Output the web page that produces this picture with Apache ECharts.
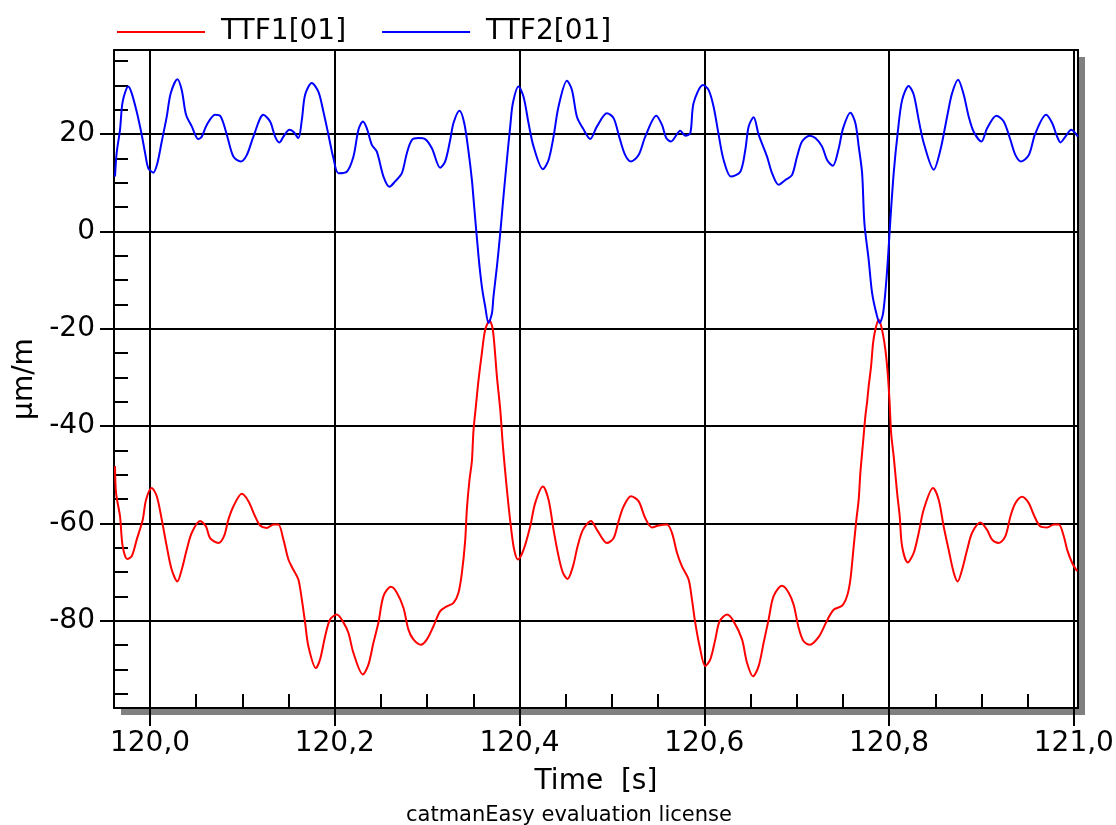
<!DOCTYPE html>
<html>
<head>
<meta charset="utf-8">
<script src="https://cdn.jsdelivr.net/npm/echarts@6/dist/echarts.min.js"></script>
<style>html,body{margin:0;padding:0;background:#fff;}#chart{width:1116px;height:825px;}</style>
</head>
<body>
<div id="chart"></div>
<script>
const seriesNames = ['TTF1[01]', 'TTF2[01]'];
const xMajorTicks = [120.0, 120.2, 120.4, 120.6, 120.8, 121.0];
const xMinorTicks = [120.05, 120.1, 120.15, 120.25, 120.3, 120.35, 120.45, 120.5, 120.55, 120.65, 120.7, 120.75, 120.85, 120.9, 120.95];
const yMajorTicks = [-80, -60, -40, -20, 0, 20];
const yMinorTicks = [-95, -90, -85, -75, -70, -65, -55, -50, -45, -35, -30, -25, -15, -10, -5, 5, 10, 15, 25, 30, 35];

const tTTF1 = [119.9621,119.9632,119.9675,119.9704,119.9754,119.9802,119.9856,119.9921,119.9957,120.0018,
120.0073,120.0127,120.0181,120.0235,120.0296,120.0343,120.0397,120.0452,120.0542,120.0606,
120.0650,120.0740,120.0801,120.0848,120.0902,120.0993,120.1065,120.1137,120.1191,120.1264,
120.1335,120.1389,120.1444,120.1498,120.1552,120.1606,120.1643,120.1679,120.1714,120.1795,
120.1841,120.1895,120.1949,120.2022,120.2093,120.2148,120.2202,120.2304,120.2364,120.2418,
120.2472,120.2527,120.2607,120.2672,120.2743,120.2797,120.2851,120.2932,120.2997,120.3068,
120.3141,120.3213,120.3285,120.3339,120.3376,120.3411,120.3430,120.3458,120.3484,120.3501,
120.3531,120.3556,120.3592,120.3628,120.3675,120.3711,120.3755,120.3791,120.3820,120.3863,
120.3906,120.3942,120.3982,120.4043,120.4115,120.4169,120.4253,120.4314,120.4368,120.4422,
120.4469,120.4519,120.4578,120.4628,120.4686,120.4773,120.4838,120.4946,120.5018,120.5072,
120.5126,120.5206,120.5288,120.5361,120.5433,120.5505,120.5596,120.5650,120.5704,120.5758,
120.5830,120.5866,120.5902,120.5949,120.6010,120.6065,120.6119,120.6165,120.6246,120.6317,
120.6408,120.6462,120.6527,120.6588,120.6642,120.6696,120.6750,120.6841,120.6913,120.6967,
120.7021,120.7075,120.7140,120.7238,120.7329,120.7400,120.7491,120.7545,120.7581,120.7617,
120.7646,120.7671,120.7689,120.7718,120.7743,120.7761,120.7779,120.7805,120.7827,120.7851,
120.7887,120.7924,120.7960,120.7985,120.8006,120.8022,120.8050,120.8087,120.8115,120.8141,
120.8202,120.8267,120.8321,120.8375,120.8476,120.8537,120.8591,120.8645,120.8700,120.8743,
120.8790,120.8845,120.8899,120.8989,120.9061,120.9115,120.9187,120.9259,120.9314,120.9368,
120.9440,120.9512,120.9566,120.9638,120.9711,120.9783,120.9837,120.9891,120.9928,120.9982,
121.0036];
const vTTF1 = [-48.2,-53.7,-58.5,-64.7,-67.3,-66.7,-63.3,-59.2,-55.1,-52.7,
-54.4,-59.2,-64.7,-69.5,-71.9,-69.5,-65.4,-61.9,-59.5,-60.6,
-63,-64,-62.6,-59.2,-56.5,-53.9,-55.4,-58.5,-60.4,-60.9,
-60.2,-60.2,-63.3,-67.4,-69.5,-71.5,-75.6,-80.4,-85.2,-89.7,
-87.9,-83.2,-79.7,-78.7,-80.3,-82.5,-86.6,-91,-89,-84.5,
-80.4,-74.9,-73,-74.2,-77.3,-81.8,-83.8,-84.9,-83.8,-81.1,
-78,-77,-76.3,-74.2,-70.1,-63.6,-57,-51,-47.2,-41,
-35.2,-30.5,-25,-20.2,-18.3,-20.2,-29.8,-36.6,-44.1,-53,
-60.6,-65.4,-67.4,-65.4,-60.6,-55.8,-52.4,-55.1,-61.3,-66.7,
-70.1,-71.4,-68.8,-64.7,-61.3,-59.5,-61.3,-64,-63,-59.5,
-56.5,-54.4,-55.4,-58.9,-60.8,-60.4,-60.2,-61.9,-66,-68.8,
-71.5,-75.6,-80.4,-85.2,-89.3,-87.9,-83.8,-80.1,-78.7,-80.1,
-83.8,-88.6,-91.4,-89.3,-84.5,-79.7,-74.9,-72.8,-74.2,-76.7,
-81.4,-84.2,-84.9,-83.3,-79.9,-77.7,-76.9,-74.9,-71.5,-64.7,
-59.2,-55.1,-49.6,-43.4,-38,-35.2,-31.8,-27.7,-22.9,-20.2,
-18.1,-20.2,-24.3,-29.1,-35.2,-41.4,-46.2,-53.7,-58.5,-64.7,
-68,-66,-61.9,-57.1,-52.7,-55.1,-60.6,-65.4,-70.1,-71.9,
-69.5,-65.4,-61.9,-59.8,-61.3,-63.3,-64,-62.6,-58.5,-55.8,
-54.5,-55.8,-58.2,-60.6,-60.8,-60.2,-60.2,-62.6,-65.4,-68.1,
-69.8];

const tTTF2 = [119.9621,119.9639,119.9675,119.9704,119.9765,119.9802,119.9856,119.9910,119.9946,119.9982,
120.0036,120.0079,120.0127,120.0181,120.0224,120.0296,120.0343,120.0390,120.0452,120.0523,
120.0560,120.0614,120.0704,120.0766,120.0831,120.0902,120.0982,120.1047,120.1119,120.1227,
120.1300,120.1354,120.1400,120.1444,120.1509,120.1552,120.1606,120.1643,120.1679,120.1751,
120.1823,120.1877,120.1931,120.1985,120.2039,120.2130,120.2202,120.2256,120.2304,120.2347,
120.2401,120.2455,120.2527,120.2592,120.2653,120.2726,120.2780,120.2834,120.2906,120.2978,
120.3051,120.3141,120.3195,120.3249,120.3285,120.3350,120.3401,120.3447,120.3484,120.3509,
120.3556,120.3592,120.3628,120.3664,120.3701,120.3718,120.3755,120.3791,120.3826,120.3863,
120.3899,120.3928,120.3989,120.4043,120.4097,120.4151,120.4253,120.4314,120.4368,120.4422,
120.4513,120.4567,120.4621,120.4686,120.4765,120.4838,120.4946,120.5018,120.5083,120.5144,
120.5206,120.5288,120.5361,120.5480,120.5542,120.5588,120.5639,120.5740,120.5794,120.5848,
120.5884,120.5986,120.6046,120.6100,120.6155,120.6209,120.6289,120.6390,120.6444,120.6480,
120.6534,120.6588,120.6679,120.6733,120.6804,120.6877,120.6949,120.7004,120.7058,120.7140,
120.7202,120.7274,120.7329,120.7391,120.7454,120.7502,120.7581,120.7635,120.7671,120.7708,
120.7733,120.7779,120.7816,120.7862,120.7898,120.7935,120.7971,120.7996,120.8014,120.8050,
120.8093,120.8141,120.8212,120.8267,120.8321,120.8375,120.8483,120.8556,120.8628,120.8682,
120.8747,120.8808,120.8862,120.8916,120.9000,120.9061,120.9162,120.9241,120.9314,120.9368,
120.9429,120.9512,120.9584,120.9700,120.9765,120.9819,120.9855,120.9909,120.9971,121.0043];
const vTTF2 = [11.3,16.2,20.9,26.7,29.8,28.4,24.6,19.9,16.2,13,
12.1,14,18.5,23.6,28.4,31.3,29.1,24,21.6,19,
19.5,21.9,24,23.6,19.9,15.4,14.4,15.7,19.5,24,
22.6,19.5,18.3,19.5,20.9,20.5,19.2,22.9,28.1,30.5,
28.7,24.6,19.9,15.1,12,12.3,15.4,20.9,22.6,21.2,
17.8,16.4,11.3,9.2,10.3,12,16.1,18.8,19.2,19,
17.1,13.1,14.4,18.8,22.3,24.8,22.3,16.5,10.6,5.1,
-5.1,-11.3,-15.4,-18.8,-16.8,-13.3,-7.2,-0.3,7.2,14.7,
21.6,26.4,29.8,27.7,22.3,17.5,12.8,14.7,19.5,25.7,
31,29.1,23.6,21.2,19,21.6,24.3,23.3,19.2,15.7,
14.4,15.7,19.5,23.8,21.9,19.2,18.5,20.7,19.7,20.2,
26.4,30.1,29.1,25.7,19.9,14.7,11.3,12.3,16.8,21.6,
23.5,19.9,15.4,12,9.6,10.6,11.6,15.4,18.5,19.7,
19.2,17.5,14.7,13.5,17,21.2,24.4,22.3,17.5,12,
1.7,-5.8,-12.6,-16.8,-18.8,-16.8,-9.9,-3.1,2.4,12,
20.2,27,29.9,28.1,22.9,18.2,12.7,16.8,23.6,28.4,
31.2,28.1,23.6,20.5,18.5,21.2,23.8,22.6,18.8,15.7,
14.4,15.7,20.2,24,22.3,19.5,18.3,19.5,20.9,19.5];

const xMin = 119.961, xMax = 121.0045;
const yMin = -97.9, yMax = 37.3;

const FONT = 'DejaVu Sans';
const chart = echarts.init(document.getElementById('chart'), null, {renderer: 'canvas'});
const pairs = (t, v) => t.map((x, i) => [x, v[i]]);
const black2 = {color: '#000', width: 2};
const frameAxis = {
  axisLine: {show: true, onZero: false, lineStyle: black2},
  axisTick: {show: false}, axisLabel: {show: false}, splitLine: {show: false}
};

chart.setOption({
  animation: false,
  backgroundColor: '#ffffff',
  textStyle: {fontFamily: FONT},
  legend: {
    left: 112, top: 13,
    icon: 'rect', itemWidth: 88, itemHeight: 2, itemGap: 36,
    textStyle: {fontFamily: FONT, fontSize: 28, color: '#000', padding: [0, 0, 0, 11]},
    data: seriesNames
  },
  grid: {
    left: 114, top: 50, right: 38, bottom: 117,
    outerBoundsMode: 'none', containLabel: false,
    show: true, backgroundColor: '#ffffff', borderWidth: 0, borderColor: 'transparent',
    shadowColor: '#808080', shadowOffsetX: 7, shadowOffsetY: 7, shadowBlur: 0
  },
  graphic: [{
    type: 'text', left: 406, top: 805,
    style: {text: 'catmanEasy evaluation license', fontFamily: FONT, fontSize: 21, fill: '#000'}
  }],
  xAxis: [{
    type: 'value', min: xMin, max: xMax, position: 'bottom',
    name: 'Time  [s]', nameLocation: 'middle', nameGap: 60,
    nameTextStyle: {fontFamily: FONT, fontSize: 28, color: '#000'},
    axisLine: {show: true, onZero: false, lineStyle: black2},
    axisTick: {show: true, inside: false, length: 18, customValues: xMajorTicks, lineStyle: black2},
    axisLabel: {show: true, customValues: xMajorTicks, margin: 22, fontFamily: FONT, fontSize: 28, color: '#000',
      formatter: v => v.toFixed(1).replace('.', ',')},
    splitLine: {show: true, lineStyle: black2}
  }, {
    type: 'value', min: xMin, max: xMax, position: 'bottom', offset: 0, gridIndex: 0,
    axisLine: {show: false, onZero: false},
    axisTick: {show: true, inside: true, length: 14, customValues: xMinorTicks, lineStyle: black2},
    axisLabel: {show: false},
    splitLine: {show: false}
  }, Object.assign({type: 'value', min: xMin, max: xMax, position: 'top', offset: 0, gridIndex: 0}, frameAxis)],
  yAxis: [{
    type: 'value', min: yMin, max: yMax, position: 'left',
    name: 'µm/m', nameLocation: 'middle', nameGap: 59, nameRotate: 90,
    nameTextStyle: {fontFamily: FONT, fontSize: 28, color: '#000', padding: [0, 0, 12, 0]},
    axisLine: {show: true, onZero: false, lineStyle: black2},
    axisTick: {show: true, inside: false, length: 14, customValues: yMajorTicks, lineStyle: black2},
    axisLabel: {show: true, customValues: yMajorTicks, margin: 19, fontFamily: FONT, fontSize: 28, color: '#000'},
    splitLine: {show: true, lineStyle: black2}
  }, {
    type: 'value', min: yMin, max: yMax, position: 'left', offset: 0, gridIndex: 0,
    axisLine: {show: false, onZero: false},
    axisTick: {show: true, inside: true, length: 14, customValues: yMinorTicks, lineStyle: black2},
    axisLabel: {show: false},
    splitLine: {show: false}
  }, Object.assign({type: 'value', min: yMin, max: yMax, position: 'right', offset: 0, gridIndex: 0}, frameAxis)],
  series: [{
    name: seriesNames[0], type: 'line', xAxisIndex: 0, yAxisIndex: 0,
    data: pairs(tTTF1, vTTF1), showSymbol: false, symbol: 'none', smooth: 0.3,
    color: '#ff0000', lineStyle: {color: '#ff0000', width: 2}, clip: true
  }, {
    name: seriesNames[1], type: 'line', xAxisIndex: 0, yAxisIndex: 0,
    data: pairs(tTTF2, vTTF2), showSymbol: false, symbol: 'none', smooth: 0.3,
    color: '#0000ff', lineStyle: {color: '#0000ff', width: 2}, clip: true
  }]
});
</script>
</body>
</html>
